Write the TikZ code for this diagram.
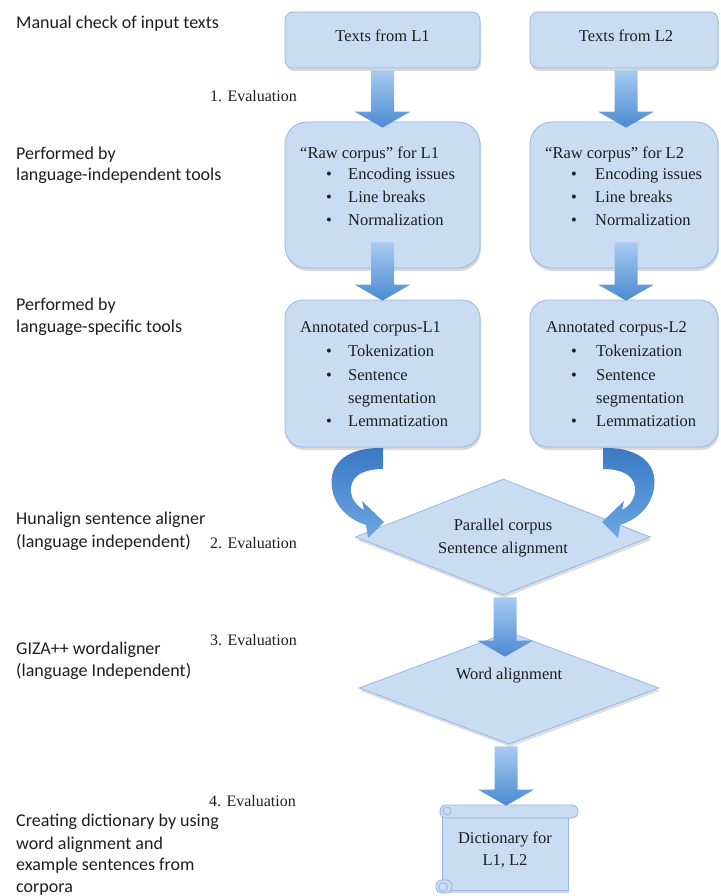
\documentclass[tikz,border=0pt]{standalone}
\usepackage{fontspec}
\setmainfont{Liberation Serif}
\newfontfamily\calfont{Carlito}
\usetikzlibrary{shapes.geometric,shadows,calc}
\definecolor{boxfill}{HTML}{CADCF1}
\definecolor{boxdraw}{HTML}{93B9E4}
\definecolor{arrowtop}{HTML}{A8CBF1}
\definecolor{arrowbot}{HTML}{4A8AD2}
\definecolor{curvetop}{HTML}{3A78C3}
\definecolor{curvebot}{HTML}{6CA7E3}
\definecolor{txtcol}{HTML}{1E1E1E}
\tikzset{
  box/.style={draw=boxdraw, line width=0.8pt, fill=boxfill,
    drop shadow={opacity=0.3, shadow xshift=1pt, shadow yshift=-3pt}},
  diam/.style={diamond, draw=boxdraw, line width=0.8pt, fill=boxfill, inner sep=0pt,
    drop shadow={opacity=0.25, shadow xshift=1pt, shadow yshift=-3pt}},
  serif/.style={font=\fontsize{16.5}{20}\selectfont, text=txtcol, inner sep=0pt,
    text height=11pt, text depth=3.5pt},
  evallab/.style={font=\fontsize{16}{20}\selectfont, text=txtcol, inner sep=0pt,
    text height=11pt, text depth=3.5pt, anchor=west},
  lab/.style={font=\calfont\fontsize{18}{22}\selectfont, text=txtcol, inner sep=0pt,
    text height=12.5pt, text depth=4pt, anchor=west},
  arrowshade/.style={top color=arrowtop, bottom color=arrowbot},
  curveshade/.style={top color=curvetop, bottom color=curvebot},
  scrollpart/.style={draw=boxdraw, line width=0.8pt, fill=boxfill},
}
\newcommand\blockarrow[2]{%
  \shade[arrowshade] let \p1=(#1), \p2=(#2) in
    (\x1-11.5pt,\y1) -- (\x1+11.5pt,\y1) -- (\x1+11.5pt,\y2+16pt) --
    (\x1+28pt,\y2+16pt) -- (\x1,\y2) -- (\x1-28pt,\y2+16pt) --
    (\x1-11.5pt,\y2+16pt) -- cycle;}
\begin{document}
\begin{tikzpicture}[x=1pt,y=-1pt]
\useasboundingbox[fill=white] (0,0) rectangle (720,896);

% ---------- left labels ----------
\node[lab] (l1) at (16,24) {Manual check of input texts};
\node[lab] (l2a) at (16,155) {Performed by};
\node[lab] (l2b) at (16,176) {language-independent tools};
\node[lab] (l3a) at (16,306) {Performed by};
\node[lab] (l3b) at (16,328) {language-specific tools};
\node[lab] (l4a) at (16,520) {Hunalign sentence aligner};
\node[lab] (l4b) at (16,543) {(language independent)};
\node[lab] (l5a) at (16,650) {GIZA++ wordaligner};
\node[lab] (l5b) at (16,672) {(language Independent)};
\node[lab] (l6a) at (16,822) {Creating dictionary by using};
\node[lab] (l6b) at (16,845) {word alignment and};
\node[lab] (l6c) at (16,866) {example sentences from};
\node[lab] (l6d) at (16,888) {corpora};

\node[evallab] (e1) at (210,98) {1. Evaluation};
\node[evallab] (e2) at (210,545) {2. Evaluation};
\node[evallab] (e3) at (210,642) {3. Evaluation};
\node[evallab] (e4) at (209,803) {4. Evaluation};

% ---------- boxes ----------
\node[box, rounded corners=8pt, minimum width=195pt, minimum height=56pt] (t1) at (382.5,40) {};
\node[serif] (t1t) at (382.5,38) {Texts from L1};
\node[box, rounded corners=8pt, minimum width=188pt, minimum height=56pt] (t2) at (624,40) {};
\node[serif] (t2t) at (626,38) {Texts from L2};

\node[box, rounded corners=22pt, minimum width=195pt, minimum height=146pt] (r1) at (382.5,195) {};
\node[box, rounded corners=22pt, minimum width=188pt, minimum height=146pt] (r2) at (624,195) {};
\node[box, rounded corners=18pt, minimum width=195pt, minimum height=147pt] (a1) at (382.5,373.5) {};
\node[box, rounded corners=18pt, minimum width=188pt, minimum height=147pt] (a2) at (624,373.5) {};

% raw corpus L1
\node[serif, anchor=west] (r1h) at (300,155) {“Raw corpus” for L1};
\node[serif] (r1d1) at (329,176) {•};
\node[serif, anchor=west] (r1i1) at (348,176) {Encoding issues};
\node[serif] (r1d2) at (329,199) {•};
\node[serif, anchor=west] (r1i2) at (348,199) {Line breaks};
\node[serif] (r1d3) at (329,222) {•};
\node[serif, anchor=west] (r1i3) at (348,222) {Normalization};
% raw corpus L2
\node[serif, anchor=west] (r2h) at (545,155) {“Raw corpus” for L2};
\node[serif] (r2d1) at (574,176) {•};
\node[serif, anchor=west] (r2i1) at (595,176) {Encoding issues};
\node[serif] (r2d2) at (574,199) {•};
\node[serif, anchor=west] (r2i2) at (595,199) {Line breaks};
\node[serif] (r2d3) at (574,222) {•};
\node[serif, anchor=west] (r2i3) at (595,222) {Normalization};

% annotated L1
\node[serif, anchor=west] (a1h) at (300,329) {Annotated corpus-L1};
\node[serif] (a1d1) at (329,353) {•};
\node[serif, anchor=west] (a1i1) at (348,353) {Tokenization};
\node[serif] (a1d2) at (329,377) {•};
\node[serif, anchor=west] (a1i2) at (348,377) {Sentence};
\node[serif, anchor=west] (a1i2b) at (348,400) {segmentation};
\node[serif] (a1d3) at (329,423) {•};
\node[serif, anchor=west] (a1i3) at (348,423) {Lemmatization};
% annotated L2
\node[serif, anchor=west] (a2h) at (546,329) {Annotated corpus-L2};
\node[serif] (a2d1) at (574,353) {•};
\node[serif, anchor=west] (a2i1) at (596,353) {Tokenization};
\node[serif] (a2d2) at (574,377) {•};
\node[serif, anchor=west] (a2i2) at (596,377) {Sentence};
\node[serif, anchor=west] (a2i2b) at (596,400) {segmentation};
\node[serif] (a2d3) at (574,423) {•};
\node[serif, anchor=west] (a2i3) at (596,423) {Lemmatization};

% ---------- diamonds ----------
\node[diam, minimum width=295pt, minimum height=116pt] (d1) at (503,537) {};
\node[serif] (d1t1) at (503,527) {Parallel corpus};
\node[serif] (d1t2) at (503,550) {Sentence alignment};
\node[diam, minimum width=300pt, minimum height=112pt] (d2) at (509,688) {};
\node[serif] (d2t) at (509,676) {Word alignment};

% ---------- scroll ----------
\node[box, minimum width=126pt, minimum height=76pt] (dict) at (505,852) {};
\draw[scrollpart, rounded corners=6pt] (440,805) rectangle (578,818);
\draw[scrollpart] (447,811) circle (4pt);
\draw[scrollpart, rounded corners=5pt] (436,880) rectangle (452,893);
\draw[scrollpart] (443,887) circle (4.5pt);
\node[serif] (dictt1) at (505,840) {Dictionary for};
\node[serif] (dictt2) at (505,862) {L1, L2};

% ---------- straight block arrows ----------
\blockarrow{$(t1.south)+(0,2)$}{$(r1.north)+(0,6)$}
\blockarrow{$(t2.south)+(2,2)$}{$(r2.north)+(2,6)$}
\blockarrow{$(r1.south)+(0,-26)$}{$(a1.north)+(0,1)$}
\blockarrow{$(r2.south)+(2,-26)$}{$(a2.north)+(2,1)$}
\blockarrow{$(d1.south)+(2,2)$}{$(d2.north)+(0,25)$}
\blockarrow{$(d2.south)+(-3,2)$}{$(dict.north)+(0,-8)$}

% ---------- curved arrows ----------
\shade[curveshade] (383,448) .. controls (348,447) and (328,463) .. (332,488)
  .. controls (335,508) and (350,520) .. (366,525) -- (368,538) -- (384,522)
  -- (362,501) -- (364,510) .. controls (355,505) and (350,497) .. (351,487)
  .. controls (353,474) and (366,469) .. (383,469) -- cycle;
\shade[curveshade] (603,448) .. controls (638,447) and (658,463) .. (654,488)
  .. controls (651,508) and (636,520) .. (620,525) -- (618,538) -- (602,522)
  -- (624,501) -- (622,510) .. controls (631,505) and (636,497) .. (635,487)
  .. controls (633,474) and (620,469) .. (603,469) -- cycle;
\end{tikzpicture}
\end{document}
